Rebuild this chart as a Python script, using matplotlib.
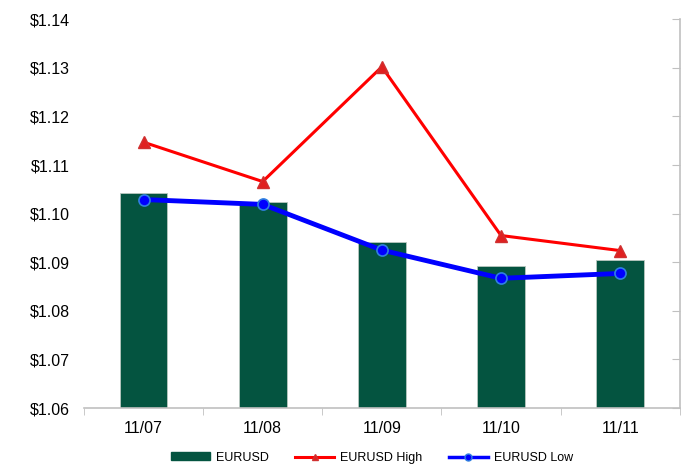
import matplotlib
matplotlib.use("Agg")
import matplotlib.pyplot as plt
from matplotlib.lines import Line2D
from matplotlib.patches import Patch
import numpy as np

plt.rcParams['font.family'] = ['Liberation Sans', 'DejaVu Sans']

dates = ["11/07", "11/08", "11/09", "11/10", "11/11"]
eurusd = [1.1043, 1.1024, 1.0941, 1.0892, 1.0905]
eurusd_high = [1.1147, 1.1066, 1.1302, 1.0955, 1.0924]
eurusd_low = [1.1029, 1.1019, 1.0925, 1.0867, 1.0877]
yticks = [1.06, 1.07, 1.08, 1.09, 1.10, 1.11, 1.12, 1.13, 1.14]

fig = plt.figure(figsize=(6.88, 4.68), dpi=100)
ax = fig.add_axes([0.122, 0.128, 0.866, 0.831])

x = np.arange(len(dates))
ax.bar(x, [v - 1.06 for v in eurusd], bottom=1.06, width=0.4, color='#045440',
       edgecolor='#b8c8c0', linewidth=0.6, zorder=2)
ax.plot(x, eurusd_high, color='#ff0000', linewidth=2.2, marker='^', markersize=9,
        markerfacecolor='#e02020', markeredgecolor='#d03030', zorder=3)
ax.plot(x, eurusd_low, color='#0000ff', linewidth=3.5, marker='o', markersize=8,
        markerfacecolor='#0000ff', markeredgecolor='#3080e0', markeredgewidth=1.2, zorder=4)

ax.set_xlim(-0.5, len(dates) - 0.5)
ax.set_ylim(1.06, 1.14)
ax.set_yticks(yticks)
ax.set_yticklabels([f"${v:.2f}" for v in yticks], fontsize=11.5)
ax.tick_params(axis='y', left=False, right=True, direction='in', length=6,
               color='#c0c0c0', labelleft=True, pad=10)
ax.set_xticks(x)
ax.set_xticklabels(dates, fontsize=11.5)
ax.set_xticks(np.arange(-0.5, len(dates), 1.0), minor=True)
ax.tick_params(axis='x', which='major', length=0, pad=9)
ax.tick_params(axis='x', which='minor', length=5, direction='out', color='#c0c0c0')

for side in ['top', 'left']:
    ax.spines[side].set_visible(False)
for side in ['bottom', 'right']:
    ax.spines[side].set_color('#c0c0c0')
    ax.spines[side].set_linewidth(1.2)

handles = [
    Patch(facecolor='#045440', edgecolor='#045440', label='EURUSD'),
    Line2D([], [], color='#ff0000', linewidth=2.2, marker='^', markersize=5,
           markerfacecolor='#e02020', markeredgecolor='#d03030', label='EURUSD High'),
    Line2D([], [], color='#0000ff', linewidth=2.5, marker='o', markersize=5,
           markerfacecolor='#0000ff', markeredgecolor='#3080e0', label='EURUSD Low'),
]
fig.legend(handles=handles, loc='center', bbox_to_anchor=(0.541, 0.022), ncol=3, frameon=False,
           fontsize=9, handlelength=3.1, handleheight=0.6, columnspacing=2.1, handletextpad=0.5)

fig.savefig("out.png", dpi=100)
